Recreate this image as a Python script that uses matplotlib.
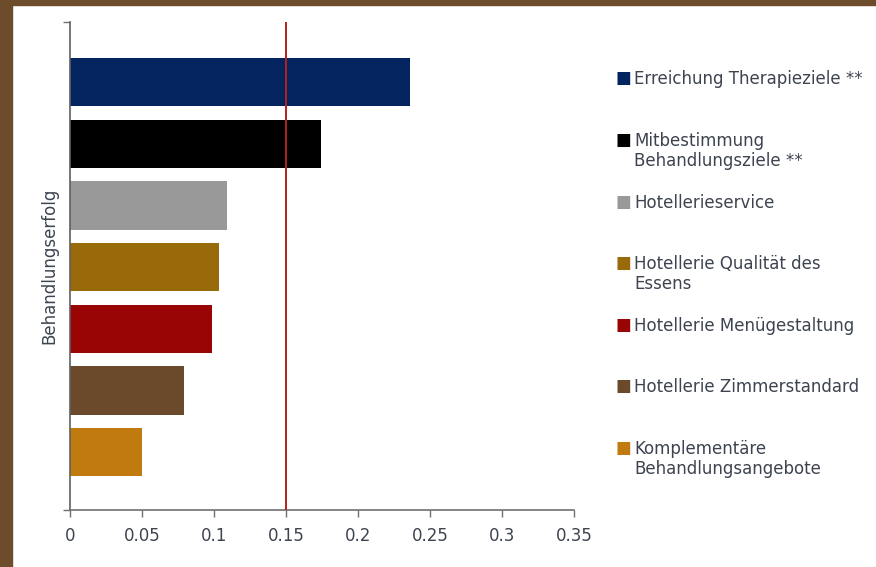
import numpy as np
import matplotlib
matplotlib.use("Agg")
import matplotlib.pyplot as plt
from matplotlib.patches import Rectangle
from matplotlib.transforms import blended_transform_factory, offset_copy

# data
labels = ["Erreichung Therapieziele **",
          "Mitbestimmung\nBehandlungsziele **",
          "Hotellerieservice",
          "Hotellerie Qualität des\nEssens",
          "Hotellerie Menügestaltung",
          "Hotellerie Zimmerstandard",
          "Komplementäre\nBehandlungsangebote"]
values = [0.236, 0.174, 0.109, 0.1035, 0.0986, 0.079, 0.0503]
colors = ["#03245f", "#000000", "#999999", "#996a09", "#990404", "#6b4a2c", "#c07a10"]
threshold = 0.15
xticks = [0, 0.05, 0.1, 0.15, 0.2, 0.25, 0.3, 0.35]
xticklabels = ["0", "0.05", "0.1", "0.15", "0.2", "0.25", "0.3", "0.35"]
ylabel = "Behandlungserfolg"

txtcol = "#3d4450"
fs = 12
plt.rcParams['font.family'] = 'DejaVu Sans'

fig = plt.figure(figsize=(8.76, 5.67), dpi=100)
# brown frame on left and top
fig.patches.append(Rectangle((0, 0), 12/876, 1, transform=fig.transFigure,
                             color="#6d4c2b", zorder=0))
fig.patches.append(Rectangle((0, 1-4.5/567), 1, 4.5/567, transform=fig.transFigure,
                             color="#6d4c2b", zorder=0))

ax = fig.add_axes([70/876, 57/567, 504/876, 488/567])
pos = np.arange(len(values))
ax.barh(pos, values, height=0.787, color=colors, zorder=2)
ax.axvline(threshold, color="#b8201c", lw=1.4, zorder=3)

ax.set_xlim(0, 0.35)
ax.set_ylim(6.94, -0.977)
ax.set_xticks(xticks)
ax.set_xticklabels(xticklabels, fontsize=fs, color=txtcol)
ax.set_yticks([6.94, -0.977])
ax.set_yticklabels([])
ax.tick_params(axis='x', direction='out', length=5, width=1, color="#707070", pad=7)
ax.tick_params(axis='y', direction='out', length=5, width=1, color="#707070")
for s in ["top", "right"]:
    ax.spines[s].set_visible(False)
ax.spines["left"].set_color("#606060")
ax.spines["bottom"].set_color("#707070")
ax.spines["left"].set_linewidth(1.2)
ax.spines["bottom"].set_linewidth(1.2)
ax.set_ylabel(ylabel, fontsize=fs, color=txtcol, labelpad=0)

# legend entries next to each bar
tr = blended_transform_factory(fig.transFigure, ax.transData)
tr_txt = offset_copy(tr, fig=fig, x=0, y=12, units='dots')
tr_sq = offset_copy(tr, fig=fig, x=0, y=4, units='dots')
for i, (lab, c) in enumerate(zip(labels, colors)):
    ax.text(623.5/876, pos[i], "\u25a0", transform=tr_sq, color=c, fontsize=12,
            ha='center', va='center', clip_on=False)
    ax.text(634/876, pos[i], lab, transform=tr_txt, color=txtcol, fontsize=fs,
            ha='left', va='top', linespacing=1.12, clip_on=False)

fig.savefig("out.png", dpi=100)
